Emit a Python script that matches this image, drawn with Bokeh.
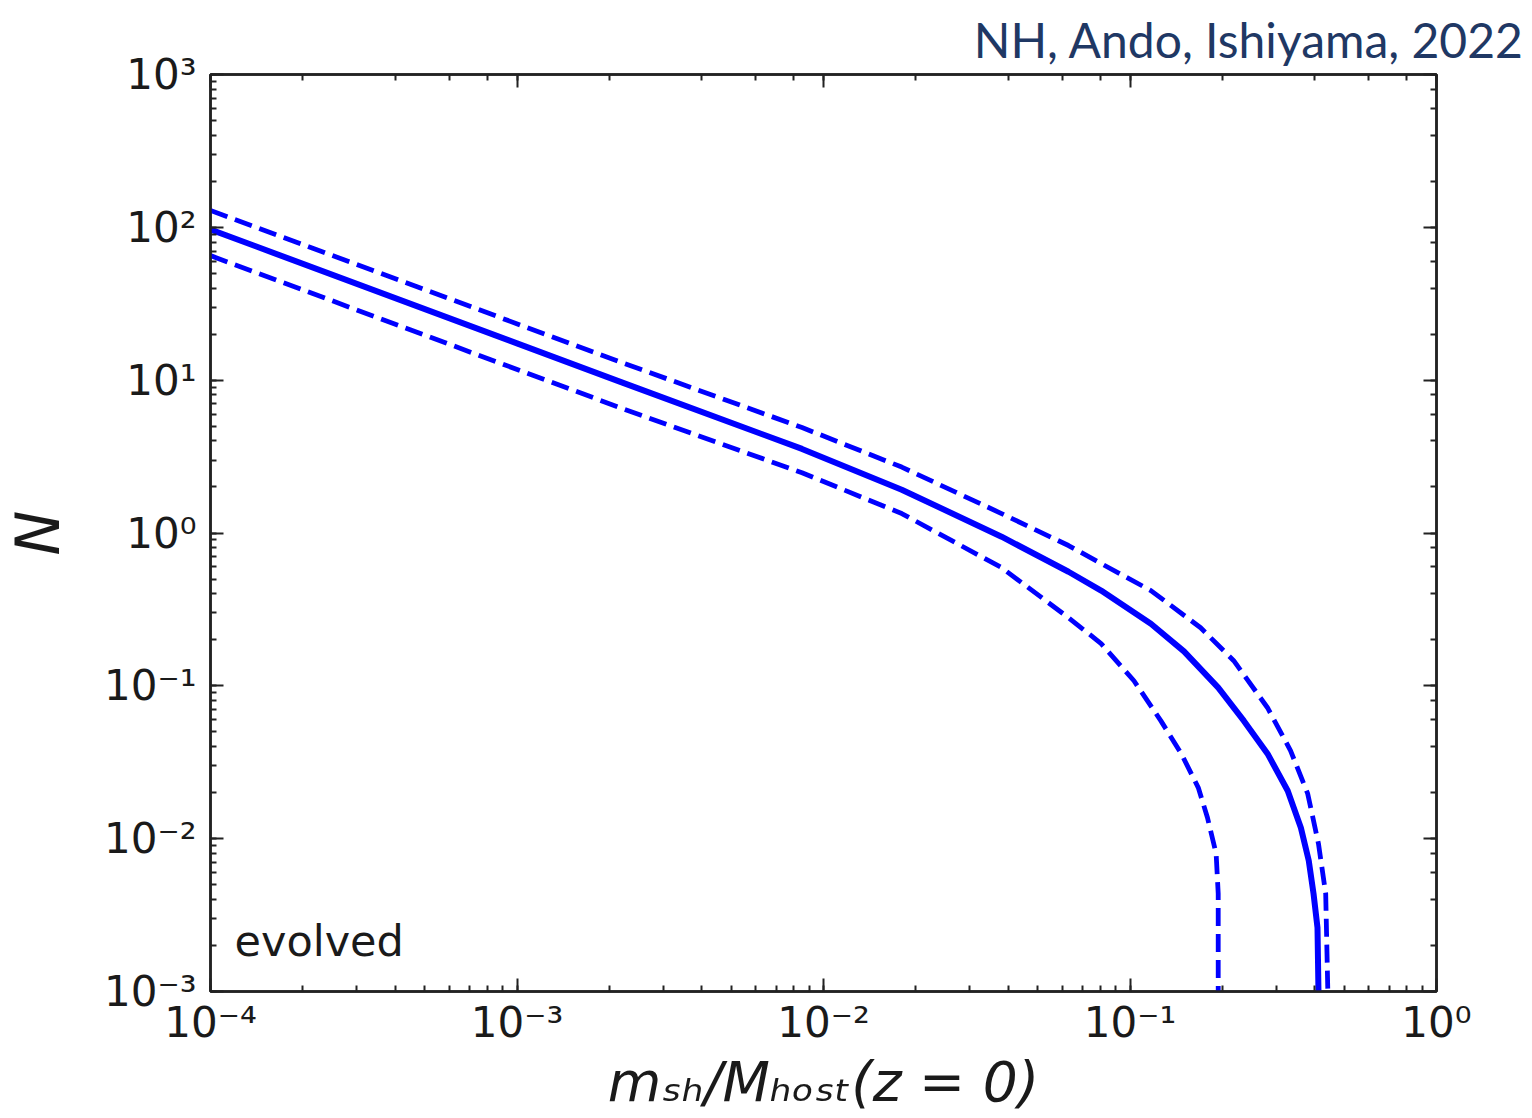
from bokeh.plotting import figure
from bokeh.models import Range1d, LogAxis, CustomJSTickFormatter, Label
from bokeh.embed import file_html
from bokeh.resources import INLINE

# ---- data (x = m_sh/M_host, y = N) ----
solid_x = [1e-4, 1e-3, 2.208e-3, 8.51e-3, 1.80e-2, 3.81e-2, 6.30e-2, 8.05e-2, 0.117, 0.150,
           0.194, 0.235, 0.281, 0.327, 0.361, 0.383, 0.397, 0.409, 0.412]
solid_y = [96.8, 17.4, 9.64, 3.55, 1.92, 0.946, 0.558, 0.420, 0.255, 0.168,
           0.0973, 0.0592, 0.0360, 0.0206, 0.0118, 0.00718, 0.00437, 0.00262, 0.001]

upper_x = [1e-4, 2.208e-3, 8.51e-3, 1.80e-2, 3.81e-2, 6.30e-2, 8.05e-2, 0.117, 0.170,
           0.218, 0.281, 0.334, 0.380, 0.412, 0.435, 0.442]
upper_y = [129.0, 13.0, 4.90, 2.70, 1.34, 0.828, 0.631, 0.420, 0.240,
           0.146, 0.0719, 0.0377, 0.0197, 0.00927, 0.00437, 0.001]

lower_x = [1e-4, 2.208e-3, 8.51e-3, 1.80e-2, 3.81e-2, 6.30e-2, 8.05e-2, 0.103, 0.126,
           0.147, 0.167, 0.179, 0.191, 0.194, 0.194]
lower_y = [65.3, 6.52, 2.48, 1.34, 0.594, 0.279, 0.189, 0.108, 0.0592,
           0.0360, 0.0216, 0.0137, 0.00798, 0.00437, 0.001]

x_limits = (1e-4, 1.0)
y_limits = (1e-3, 1e3)

x_label = "m\u209b\u2095/M\u2095\u2092\u209b\u209c(z = 0)"
y_label = "N"
annotation_text = "evolved"
citation_text = "NH, Ando, Ishiyama, 2022"

# ---- figure ----
W, H = 1532, 1118
FL, FR, FT, FB = 207, 1436, 74, 991   # frame edges in canvas px

p = figure(width=W, height=H, x_axis_type="log", y_axis_type="log",
           x_range=Range1d(*x_limits), y_range=Range1d(*y_limits),
           output_backend="svg", toolbar_location=None,
           min_border_left=FL, min_border_right=W - FR,
           min_border_top=FT, min_border_bottom=H - FB)
p.background_fill_color = "white"
p.border_fill_color = "white"
p.outline_line_color = "#222222"
p.outline_line_width = 2.5
p.xgrid.visible = False
p.ygrid.visible = False

# citation (title, top right)
p.title.text = citation_text
p.title.align = "right"
p.title.text_font = "Lato"
p.title.text_font_style = "normal"
p.title.text_font_size = "48px"
p.title.text_color = "#1f3864"
p.title.offset = -88
p.title.standoff = 14

fmt_code = """
const sup = {"0":"\u2070","1":"\u00b9","2":"\u00b2","3":"\u00b3","4":"\u2074",
             "5":"\u2075","6":"\u2076","7":"\u2077","8":"\u2078","9":"\u2079","-":"\u207b"};
const e = Math.round(Math.log10(tick));
return "10" + String(e).split("").map(c => sup[c]).join("");
"""
blank_code = 'return ""'

p.add_layout(LogAxis(), "above")
p.add_layout(LogAxis(), "right")

for ax in p.axis:
    ax.axis_line_color = "#222222"
    ax.axis_line_width = 2.5
    ax.major_tick_line_color = "#222222"
    ax.minor_tick_line_color = "#222222"
    ax.major_tick_line_width = 2
    ax.minor_tick_line_width = 2
    ax.major_tick_in = 13
    ax.major_tick_out = 0
    ax.minor_tick_in = 6
    ax.minor_tick_out = 0
    ax.major_label_text_font = "DejaVu Sans"
    ax.major_label_text_font_size = "42px"
    ax.major_label_text_color = "#1a1a1a"

for ax in p.above + p.right:
    ax.formatter = CustomJSTickFormatter(code=blank_code)
    ax.major_label_standoff = 0

p.below[0].formatter = CustomJSTickFormatter(code=fmt_code)
p.left[0].formatter = CustomJSTickFormatter(code=fmt_code)
p.below[0].major_label_standoff = 6
p.left[0].major_label_standoff = 14

p.left[0].axis_label = y_label
p.left[0].axis_label_text_font = "DejaVu Sans"
p.left[0].axis_label_text_font_style = "italic"
p.left[0].axis_label_text_font_size = "60px"
p.left[0].axis_label_text_color = "#1a1a1a"
p.left[0].axis_label_standoff = 28

p.below[0].axis_label = x_label
p.below[0].axis_label_text_font = "DejaVu Sans"
p.below[0].axis_label_text_font_style = "italic"
p.below[0].axis_label_text_font_size = "55px"
p.below[0].axis_label_text_color = "#1a1a1a"
p.below[0].axis_label_standoff = 0

# ---- curves ----
blue = "#0000ff"
p.line(solid_x, solid_y, line_color=blue, line_width=6, line_join="round")
p.line(upper_x, upper_y, line_color=blue, line_width=4.8, line_dash="18 8", line_join="round")
p.line(lower_x, lower_y, line_color=blue, line_width=4.8, line_dash="18 8", line_join="round")

# ---- in-frame annotation ----
p.add_layout(Label(x=24, y=26, x_units="screen", y_units="screen",
                   text=annotation_text, text_font="DejaVu Sans",
                   text_font_size="43px", text_color="#1a1a1a"))

open("out.html", "w").write(file_html(p, INLINE))
